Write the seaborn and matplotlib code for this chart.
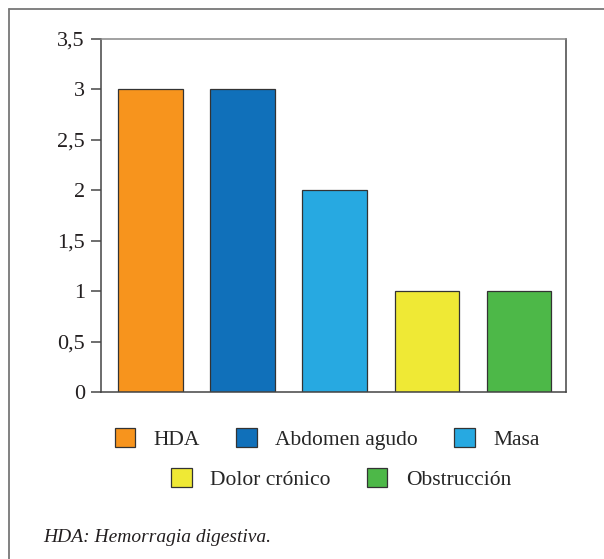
import pandas as pd
import matplotlib.pyplot as plt
import seaborn as sns
from matplotlib.patches import Patch
from matplotlib.lines import Line2D

# Data
categories = ["HDA", "Abdomen agudo", "Masa", "Dolor crónico", "Obstrucción"]
values = [3, 3, 2, 1, 1]
colors = ["#F7941D", "#1070BA", "#27A9E1", "#EFE935", "#4DB848"]
yticks = [0, 0.5, 1, 1.5, 2, 2.5, 3, 3.5]
ytick_labels = ["0", "0,5", "1", "1,5", "2", "2,5", "3", "3,5"]

df = pd.DataFrame({"categoria": categories, "valor": values})

sns.set_style("white")
plt.rcParams["font.family"] = ["Liberation Serif", "DejaVu Serif"]

fig = plt.figure(figsize=(6.04, 5.59), dpi=100)
W, H = 604, 559
ax = fig.add_axes([101 / W, 1 - 392 / H, 465 / W, 353 / H])

sns.barplot(data=df, x="categoria", y="valor", hue="categoria",
            palette=colors, saturation=1, width=0.705, edgecolor="#333333",
            linewidth=0.9, legend=False, ax=ax)

ax.set_ylim(0, 3.5)
ax.set_xlim(-0.54, 4.51)
ax.set_yticks(yticks)
ax.set_yticklabels(ytick_labels, fontsize=16, color="#231F20")
ax.set_xticks([])
ax.set_xlabel("")
ax.set_ylabel("")
ax.tick_params(axis="y", length=7.5, width=1.2, color="#555555", pad=4, left=True)
for side in ["left", "top", "right", "bottom"]:
    ax.spines[side].set_visible(True)
    ax.spines[side].set_color("#444444")
    ax.spines[side].set_linewidth(1.1)
ax.spines["top"].set_color("#888888")

# Outer frame (top and left edges)
fig.add_artist(Line2D([9 / W, 1], [1 - 9 / H, 1 - 9 / H], color="#777777", lw=1.3))
fig.add_artist(Line2D([9 / W, 9 / W], [0, 1 - 9 / H], color="#777777", lw=1.3))

# Legend in two rows
handles = [Patch(facecolor=c, edgecolor="#333333", linewidth=0.9) for c in colors]
leg_kw = dict(frameon=False, fontsize=15.5, handlelength=0.95, handleheight=0.95,
              handletextpad=0.85, columnspacing=1.7, borderaxespad=0)
leg1 = fig.legend(handles[:3], categories[:3], ncol=3, loc="center",
                  bbox_to_anchor=(327 / W, 1 - 439 / H), **leg_kw)
leg2 = fig.legend(handles[3:], categories[3:], ncol=2, loc="center",
                  bbox_to_anchor=(341 / W, 1 - 479 / H), **leg_kw)

fig.text(43 / W, 1 - 537 / H, "HDA: Hemorragia digestiva.", fontsize=14,
         style="italic", va="center", ha="left", color="#231F20")

fig.savefig("out.png", dpi=100)
